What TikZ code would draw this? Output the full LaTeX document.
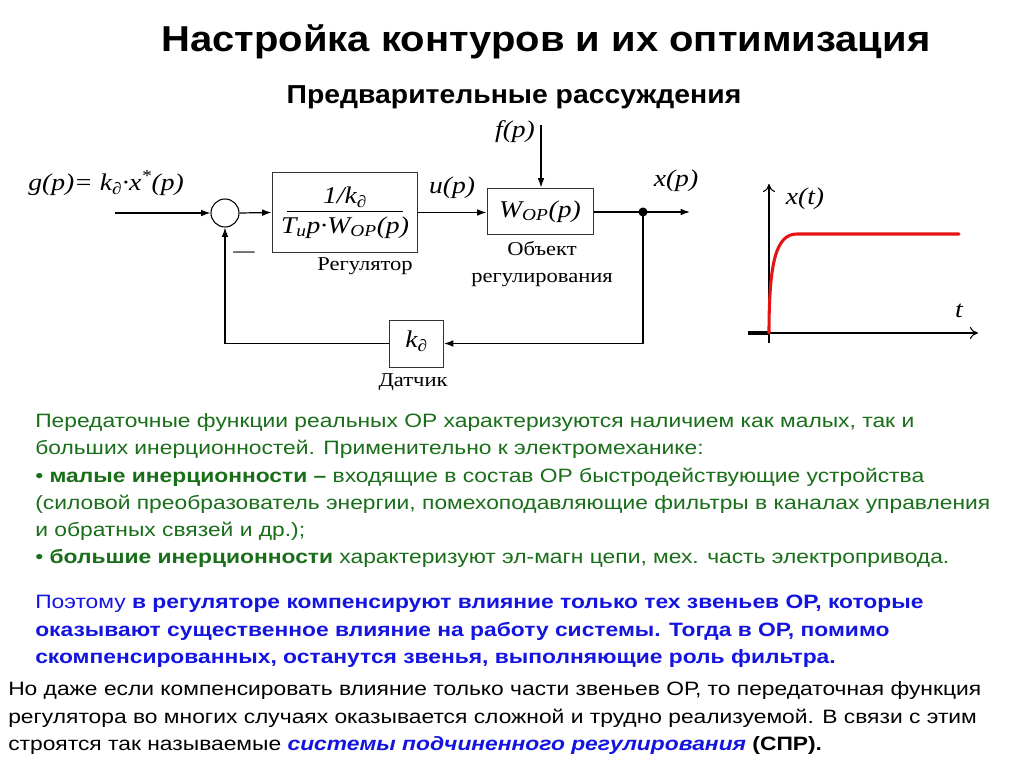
\documentclass[tikz,border=0pt]{standalone}
\usepackage{fontspec}
\setmainfont{Liberation Serif}
\newfontfamily\serifst[FakeStretch=1.15]{Liberation Serif}
\newfontfamily\sansbody[FakeStretch=1.18]{Liberation Sans}
\newfontfamily\sanstitle[FakeStretch=1.11]{Liberation Sans}
\newfontfamily\sanssub[FakeStretch=1.09]{Liberation Sans}
\usetikzlibrary{arrows.meta}
\definecolor{tgreen}{RGB}{25,110,25}
\definecolor{tblue}{RGB}{20,20,225}
\definecolor{tred}{RGB}{228,20,20}
\begin{document}
\begin{tikzpicture}[x=0.75pt,y=-0.75pt,
  wire/.style={line width=0.9pt},
  arr/.style={wire,-{Latex[length=7pt,width=5pt]}},
  blk/.style={draw=black!80,line width=0.75pt,inner sep=0pt},
  lab/.style={font=\serifst\itshape\fontsize{18}{20}\selectfont,inner sep=0pt},
  capt/.style={font=\serifst\fontsize{14.7}{16}\selectfont,inner sep=0pt},
  txt/.style={anchor=base west,inner sep=0pt,font=\sansbody\fontsize{14.5}{17}\selectfont},
  axis/.style={line width=0.8pt,-{To[length=6pt,width=9pt]}}]
\useasboundingbox[fill=white] (0,0) rectangle (1024,767);

% titles
\node[font=\sanstitle\bfseries\fontsize{27}{32}\selectfont] (title) at (546,42) {Настройка контуров и их оптимизация};
\node[font=\sanssub\bfseries\fontsize{19.5}{24}\selectfont] (subtitle) at (514,97) {Предварительные рассуждения};

% block diagram
\coordinate (in) at (115,213);
\node[draw,circle,minimum size=21pt,inner sep=0pt,line width=0.8pt] (sum) at (225,213) {};
\node[blk,minimum width=108.75pt,minimum height=60pt] (reg) at (344.5,212.5) {};
\node[lab,anchor=base] (num) at (345,203) {1/k\textsubscript{∂}};
\node[lab,anchor=base] (den) at (345,233) {T\textsubscript{и}p·W\textsubscript{OP}(p)};
\draw[line width=0.7pt] (287,211.5) -- (403,211.5);
\node[capt,anchor=base] (regcap) at (365,270) {Регулятор};

\node[blk,minimum width=79.5pt,minimum height=34.5pt] (obj) at (540,211) {};
\node[lab,anchor=base] (objtxt) at (540,217) {W\textsubscript{OP}(p)};
\node[capt,anchor=base] (objcap1) at (542,255) {Объект};
\node[capt,anchor=base] (objcap2) at (542,282) {регулирования};

\coordinate (ftop) at (541,125);
\node[lab] (flab) at (515,132) {f(p)};
\coordinate (branch) at (643,212);
\coordinate (out) at (690,212);
\node[lab] (xlab) at (676,181) {x(p)};
\node[lab] (ulab) at (452,188) {u(p)};
\node[lab,anchor=west] (glab) at (28,183) {g(p)= k\textsubscript{∂}·x\textsuperscript{*}(p)};
\node[font=\fontsize{16}{18}\selectfont,inner sep=0pt] (minus) at (244,255) {—};

\node[blk,minimum width=40.5pt,minimum height=35.25pt] (sens) at (416.5,343.5) {};
\node[lab,anchor=base] (senstxt) at (416.5,347) {k\textsubscript{∂}};
\node[capt,anchor=base] (senscap) at (413,386) {Датчик};

\draw[arr] (in) -- (sum.west);
\draw[arr] (sum.east) -- (reg.west);
\draw[arr] (reg.east) -- (reg.east -| obj.west);
\draw[arr] (ftop) -- (ftop |- obj.north);
\draw[wire] (obj.east |- branch) -- (branch);
\draw[arr] (branch) -- (out);
\fill (branch) circle (3.4pt);
\draw[arr] (branch) |- (sens.east);
\draw[arr] (sens.west) -| (sum.south);

% step response graph
\draw[axis] (769,343) -- (769,184);
\draw[axis] (769,333) -- (978,333);
\draw[line width=2.4pt] (748,333) -- (769,333);
\draw[tred,line width=2.3pt,line cap=round] (769,333) .. controls (769,262) and (776,234) .. (797,234) -- (959,234);
\node[lab] (xt) at (805,199) {x(t)};
\node[lab] (tt) at (959,311) {t};

% text
\node[txt,text=tgreen] (g1) at (35,427) {Передаточные функции реальных ОР характеризуются наличием как малых, так и};
\node[txt,text=tgreen] (g2) at (35,454) {больших инерционностей. Применительно к электромеханике:};
\node[txt,text=tgreen] (g3) at (35,482) {• \textbf{малые инерционности –} входящие в состав ОР быстродействующие устройства};
\node[txt,text=tgreen] (g4) at (35,509) {(силовой преобразователь энергии, помехоподавляющие фильтры в каналах управления};
\node[txt,text=tgreen] (g5) at (35,536) {и обратных связей и др.);};
\node[txt,text=tgreen] (g6) at (35,563) {• \textbf{большие инерционности} характеризуют эл-магн цепи, мех. часть электропривода.};
\node[txt,text=tblue] (b1) at (35,608) {Поэтому \textbf{в регуляторе компенсируют влияние только тех звеньев ОР, которые}};
\node[txt,text=tblue] (b2) at (35,636) {\textbf{оказывают существенное влияние на работу системы. Тогда в ОР, помимо}};
\node[txt,text=tblue] (b3) at (35,663) {\textbf{скомпенсированных, останутся звенья, выполняющие роль фильтра.}};
\node[txt] (k1) at (8,695) {Но даже если компенсировать влияние только части звеньев ОР, то передаточная функция};
\node[txt] (k2) at (8,723) {регулятора во многих случаях оказывается сложной и трудно реализуемой. В связи с этим};
\node[txt] (k3) at (8,750) {строятся так называемые \textcolor{tblue}{\textbf{\textit{системы подчиненного регулирования}}} \textbf{(СПР).}};
\end{tikzpicture}
\end{document}
